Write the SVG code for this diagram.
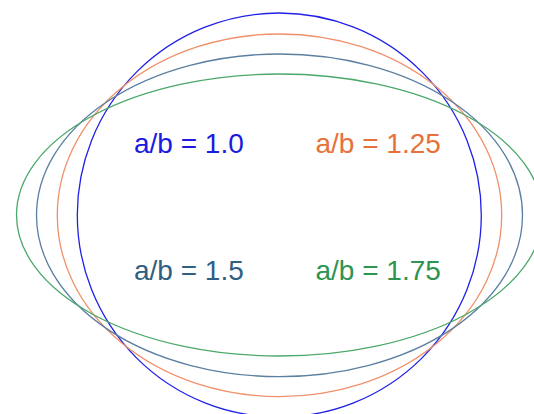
<svg xmlns="http://www.w3.org/2000/svg" width="534" height="414" viewBox="0 0 534 414">
<style>
.e{fill:none;stroke-width:1.3}
.t{font-family:"Liberation Sans",Arial,sans-serif;font-size:28px}
</style>
<rect width="534" height="414" fill="#fff"/>
<g id="shapes">
<ellipse id="e100" class="e" cx="279.3" cy="215" rx="202" ry="202" stroke="#2020e8"/>
<ellipse id="e125" class="e" cx="279.5" cy="215.3" rx="222.2" ry="181.3" stroke="#f0906a"/>
<ellipse id="e150" class="e" cx="279.5" cy="215.3" rx="243" ry="161.3" stroke="#5a7fa0"/>
<ellipse id="e175" class="e" cx="279.5" cy="215" rx="263" ry="141" stroke="#4aa86a"/>
</g>
<g id="labels">
<text class="t" x="134" y="152.5" fill="#1a1ae0">a/b = 1.0</text>
<text class="t" x="315.5" y="152.5" fill="#e8703a">a/b = 1.25</text>
<text class="t" x="134" y="279.5" fill="#2f5f82">a/b = 1.5</text>
<text class="t" x="315.5" y="279.5" fill="#2e9450">a/b = 1.75</text>
</g>
</svg>
